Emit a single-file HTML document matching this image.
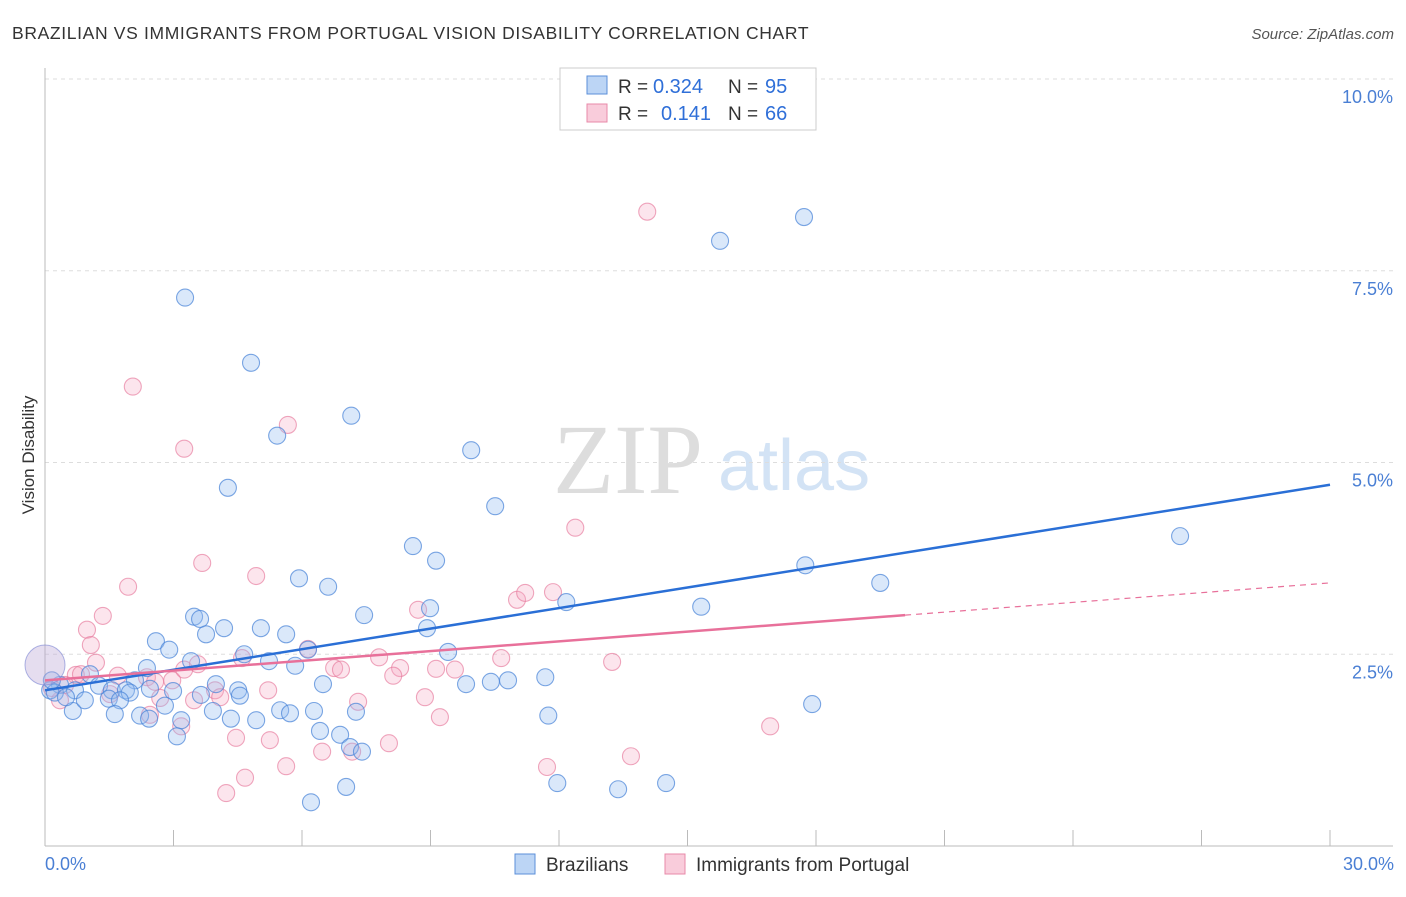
<!DOCTYPE html>
<html><head><meta charset="utf-8"><style>
body{margin:0;background:#fff;font-family:"Liberation Sans",sans-serif}
</style></head><body>
<svg id="chart" width="1406" height="892" xmlns="http://www.w3.org/2000/svg" font-family="Liberation Sans, sans-serif">
<text x="12" y="39" font-size="17.5" fill="#333" letter-spacing="0.65">BRAZILIAN VS IMMIGRANTS FROM PORTUGAL VISION DISABILITY CORRELATION CHART</text>
<text x="1394" y="39" font-size="15" fill="#555" font-style="italic" text-anchor="end">Source: ZipAtlas.com</text>
<g>
<text x="553" y="493" font-size="100" fill="#ddd" style="font-family:'Liberation Serif',serif">ZIP</text>
<text x="718" y="490" font-size="72" fill="#d3e3f5">atlas</text>
</g>
<g id="grid"></g>
<g id="axes"></g>
<g id="pts"></g>
<g id="lines"></g>
<text transform="translate(34,455) rotate(-90)" font-size="17" fill="#333" text-anchor="middle">Vision Disability</text>
<text x="45" y="870" font-size="18" fill="#4a7fd4">0.0%</text>
<text x="1394" y="870" font-size="18" fill="#4a7fd4" text-anchor="end">30.0%</text>
<g>
<rect x="560" y="68" width="256" height="62" fill="#fff" stroke="#ccc"/>
<rect x="587" y="76" width="20" height="18" fill="#bcd5f5" stroke="#5b8fd9"/>
<rect x="587" y="104" width="20" height="18" fill="#f9ccdb" stroke="#e88aa8"/>
<text x="618" y="93" font-size="19" fill="#333">R =</text>
<text x="653" y="93" font-size="20" fill="#2f6fd8">0.324</text>
<text x="728" y="93" font-size="19" fill="#333">N =</text>
<text x="765" y="93" font-size="20" fill="#2f6fd8">95</text>
<text x="618" y="120" font-size="19" fill="#333">R =</text>
<text x="661" y="120" font-size="20" fill="#2f6fd8">0.141</text>
<text x="728" y="120" font-size="19" fill="#333">N =</text>
<text x="765" y="120" font-size="20" fill="#2f6fd8">66</text>
</g>
<g>
<rect x="515" y="854" width="20" height="20" fill="#bcd5f5" stroke="#5b8fd9"/>
<text x="546" y="871" font-size="19" fill="#333">Brazilians</text>
<rect x="665" y="854" width="20" height="20" fill="#f9ccdb" stroke="#e88aa8"/>
<text x="696" y="871" font-size="19" fill="#333">Immigrants from Portugal</text>
</g>
</svg>
<script>
const yTicks=[2.5,5,7.5,10];
const yTickLabels=["2.5%","5.0%","7.5%","10.0%"];
const xTicks=[0,3,6,9,12,15,18,21,24,27,30];
const blueX=[3.27,4.81,7.15,5.42,9.95,4.27,10.51,8.59,9.13,5.93,6.61,3.48,3.62,7.45,8.99,4.18,3.76,5.04,2.59,5.63,2.90,8.92,6.14,4.65,9.41,5.23,3.41,2.38,5.84,2.10,2.99,3.99,4.51,6.49,3.64,4.55,1.05,0.35,0.70,1.26,1.56,1.89,1.98,2.45,2.80,3.92,4.34,4.93,5.49,5.72,6.28,7.26,6.42,6.89,7.12,7.40,1.49,1.75,0.65,1.63,2.22,2.43,3.18,3.08,9.83,10.41,10.81,11.68,11.75,11.96,13.38,14.50,6.21,7.03,12.17,15.32,17.75,19.50,26.50,17.91,15.76,17.72,0.12,0.23,0.16,0.93,0.49];
const blueY=[7.15,6.30,5.61,5.35,5.16,4.67,4.43,3.91,3.72,3.49,3.38,2.99,2.96,3.01,3.10,2.84,2.76,2.84,2.67,2.76,2.56,2.84,2.56,2.50,2.53,2.41,2.41,2.32,2.35,2.16,2.02,2.11,2.03,2.11,1.97,1.96,2.24,2.10,2.03,2.09,2.03,2.03,2.00,2.05,1.83,1.76,1.66,1.64,1.77,1.73,1.76,1.75,1.50,1.45,1.29,1.23,1.92,1.90,1.76,1.72,1.70,1.66,1.64,1.43,2.11,2.14,2.16,2.20,1.70,0.82,0.74,0.82,0.57,0.77,3.18,3.12,3.66,3.43,4.04,1.85,7.89,8.20,2.03,2.00,2.16,1.90,1.94];
const pinkX=[14.06,2.05,3.25,5.67,12.38,3.67,4.93,1.94,1.35,0.98,1.07,1.19,0.72,0.84,1.70,2.38,2.69,2.97,3.25,3.57,3.97,4.09,4.60,5.21,6.14,6.75,6.91,7.80,8.29,8.13,8.71,9.13,9.57,10.65,11.02,11.21,11.86,13.24,8.87,9.22,7.31,4.46,4.67,4.23,5.63,6.47,7.17,8.03,11.72,13.68,16.93,0.35,0.16,0.47,2.57,3.48,1.52,3.18,2.45,5.25];
const pinkY=[8.27,5.99,5.18,5.49,4.15,3.69,3.52,3.38,3.00,2.82,2.62,2.39,2.23,2.24,2.22,2.20,1.93,2.16,2.30,2.37,2.03,1.94,2.45,2.03,2.57,2.32,2.30,2.46,2.32,2.22,3.08,2.31,2.30,2.45,3.21,3.30,3.31,2.40,1.94,1.68,1.88,1.41,0.89,0.69,1.04,1.23,1.23,1.34,1.03,1.17,1.56,1.90,2.06,2.10,2.14,1.90,1.98,1.56,1.71,1.38];
const blueTrend=[2.03,4.71];
const pinkTrend=[2.16,3.01,3.43];
const pinkSolidEnd=20.08;

const NS="http://www.w3.org/2000/svg";
const sx=v=>45+v/30*1285;
const sy=v=>846-v*76.7;
function mk(tag,attrs,parent){const e=document.createElementNS(NS,tag);for(const k in attrs)e.setAttribute(k,attrs[k]);parent.appendChild(e);return e;}
const grid=document.getElementById('grid'),axes=document.getElementById('axes'),pts=document.getElementById('pts'),lines=document.getElementById('lines');
yTicks.forEach((t,i)=>{
 const l=mk('line',{x1:45,x2:1393,y1:sy(t),y2:sy(t),stroke:'#ddd','stroke-dasharray':'4,4'},grid);
 
 
 const tx=mk('text',{x:1393,y:sy(t)+24,'font-size':18,fill:'#4a7fd4','text-anchor':'end'},grid);
 tx.textContent=yTickLabels[i];
 
 
});
const ya=mk('line',{x1:45,x2:45,y1:68,y2:846,stroke:'#bbb'},axes);


const xa=mk('line',{x1:45,x2:1393,y1:846,y2:846,stroke:'#bbb'},axes);


xTicks.forEach(t=>{
 const l=mk('line',{x1:sx(t),x2:sx(t),y1:830,y2:846,stroke:'#bbb'},axes);
 
 
});
pinkX.forEach((x,i)=>{
 const c=mk('circle',{cx:sx(x),cy:sy(pinkY[i]),r:8.5,fill:'rgba(244,170,195,0.3)',stroke:'rgba(230,120,155,0.65)','stroke-width':1.1},pts);
 
 
});
blueX.forEach((x,i)=>{
 const c=mk('circle',{cx:sx(x),cy:sy(blueY[i]),r:8.5,fill:'rgba(150,190,240,0.35)',stroke:'rgba(70,130,215,0.7)','stroke-width':1.1},pts);
 
 
});
const big=mk('circle',{cx:sx(0),cy:sy(2.36),r:20,fill:'rgba(190,170,215,0.4)',stroke:'rgba(120,130,210,0.6)'},pts);


const bl=mk('line',{x1:sx(0),y1:sy(blueTrend[0]),x2:sx(30),y2:sy(blueTrend[1]),stroke:'#2a6fd6','stroke-width':2.5},lines);


const pl=mk('line',{x1:sx(0),y1:sy(pinkTrend[0]),x2:sx(pinkSolidEnd),y2:sy(pinkTrend[1]),stroke:'#e8709a','stroke-width':2.5},lines);


const pd=mk('line',{x1:sx(pinkSolidEnd),y1:sy(pinkTrend[1]),x2:sx(30),y2:sy(pinkTrend[2]),stroke:'#e8709a','stroke-width':1.2,'stroke-dasharray':'6,5'},lines);


</script>
</body></html>
